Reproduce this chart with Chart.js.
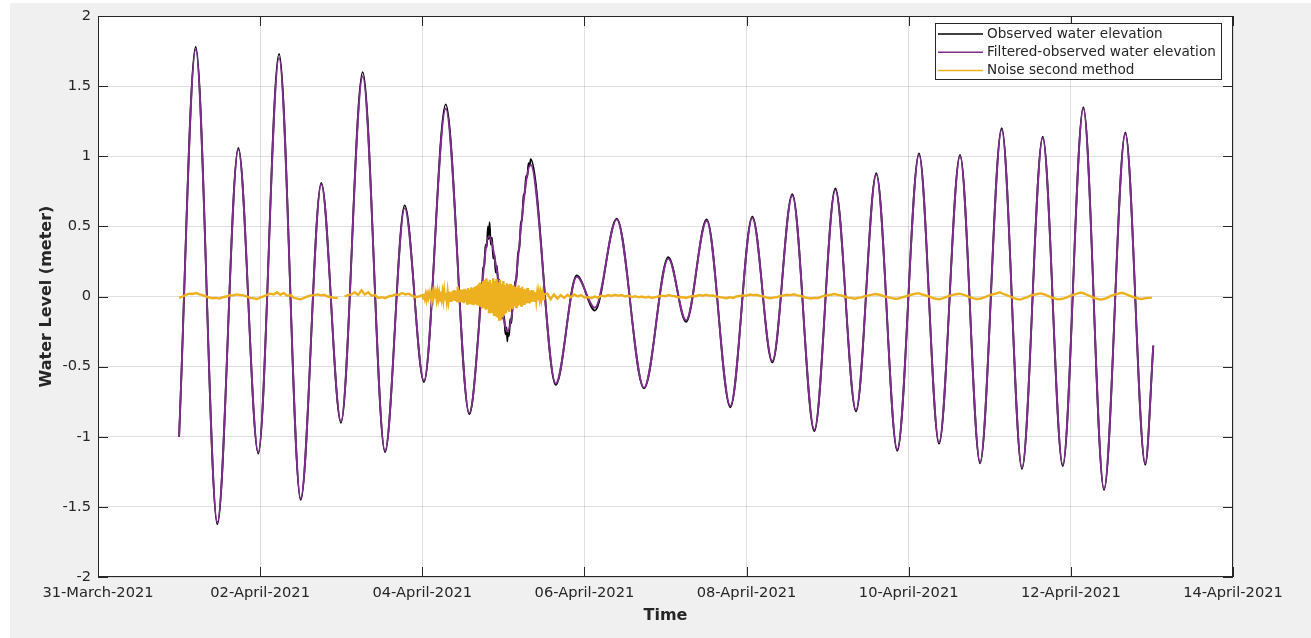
<!DOCTYPE html>
<html>
<head>
<meta charset="utf-8">
<title>Water Level</title>
<script src="https://cdn.jsdelivr.net/npm/chart.js@4.4.1/dist/chart.umd.min.js"></script>
<style>
    html, body { margin: 0; padding: 0; background: #ffffff; }
    #frame { position: absolute; left: 10px; top: 3px; width: 1301px; height: 635px; background: #f0f0f0; }
    canvas { display: block; }
</style>
</head>
<body>
<div id="frame"><canvas id="levelChart" width="1301" height="635"></canvas></div>
<script>
// ===== Data (x = days since 31-March-2021 00:00) =====
const xTickDays = [0, 2, 4, 6, 8, 10, 12, 14];
const xTickLabels = ["31-March-2021", "02-April-2021", "04-April-2021", "06-April-2021",
    "08-April-2021", "10-April-2021", "12-April-2021", "14-April-2021"];
const yTickValues = [-2, -1.5, -1, -0.5, 0, 0.5, 1, 1.5, 2];
const yTickLabels = ["-2", "-1.5", "-1", "-0.5", "0", "0.5", "1", "1.5", "2"];

// filtered signal: high / low waters
const filteredDays = [1.000, 1.205, 1.472, 1.731, 1.977, 2.233, 2.500, 2.754, 2.997, 3.265,
    3.540, 3.783, 4.021, 4.289, 4.580, 4.823, 4.925, 5.049, 5.337, 5.646,
    5.905, 6.130, 6.398, 6.735, 7.035, 7.253, 7.508, 7.800, 8.071, 8.318,
    8.564, 8.836, 9.095, 9.350, 9.600, 9.859, 10.127, 10.374, 10.633, 10.880,
    11.147, 11.397, 11.653, 11.900, 12.154, 12.409, 12.672, 12.918, 13.017];
const filteredLevels = [-1.00, 1.76, -1.61, 1.05, -1.11, 1.70, -1.44, 0.80, -0.89, 1.57,
    -1.10, 0.63, -0.60, 1.34, -0.83, 0.43, 0.17, -0.25, 0.94, -0.62,
    0.14, -0.08, 0.55, -0.65, 0.27, -0.17, 0.54, -0.78, 0.56, -0.46,
    0.72, -0.95, 0.76, -0.81, 0.87, -1.09, 1.01, -1.04, 1.00, -1.18,
    1.19, -1.22, 1.13, -1.20, 1.34, -1.37, 1.16, -1.19, -0.35];

// observed signal: same tide, noisy around 04/05 April
const observedDays = [1.000, 1.205, 1.472, 1.731, 1.977, 2.233, 2.500, 2.754, 2.997, 3.265,
    3.540, 3.783, 4.021, 4.289, 4.580,
    4.62, 4.66, 4.70, 4.72, 4.735, 4.75, 4.765, 4.78, 4.795, 4.81,
    4.82, 4.83, 4.845, 4.86, 4.875, 4.89, 4.905, 4.92, 4.935, 4.95,
    4.965, 4.98, 4.995, 5.01, 5.025, 5.04, 5.049, 5.055, 5.07, 5.085,
    5.10, 5.115, 5.13, 5.145, 5.16, 5.18, 5.20, 5.215, 5.23, 5.25,
    5.265, 5.28, 5.295, 5.31, 5.325, 5.337,
    5.646, 5.905, 6.130, 6.398, 6.735, 7.035, 7.253, 7.508, 7.800, 8.071,
    8.318, 8.564, 8.836, 9.095, 9.350, 9.600, 9.859, 10.127, 10.374, 10.633,
    10.880, 11.147, 11.397, 11.653, 11.900, 12.154, 12.409, 12.672, 12.918, 13.017];
const observedLevels = [-1.00, 1.78, -1.625, 1.06, -1.12, 1.73, -1.45, 0.81, -0.90, 1.60,
    -1.11, 0.65, -0.61, 1.37, -0.84,
    -0.74, -0.50, -0.20, -0.02, 0.02, 0.20, 0.22, 0.37, 0.35, 0.50,
    0.41, 0.53, 0.37, 0.42, 0.27, 0.30, 0.17, 0.22, 0.10, 0.12,
    -0.01, 0.00, -0.16, -0.14, -0.27, -0.22, -0.32, -0.26, -0.28, -0.16,
    -0.19, -0.05, -0.06, 0.10, 0.12, 0.30, 0.36, 0.52, 0.55, 0.72,
    0.74, 0.86, 0.85, 0.95, 0.93, 0.98,
    -0.63, 0.15, -0.10, 0.555, -0.655, 0.28, -0.18, 0.55, -0.79, 0.57,
    -0.47, 0.73, -0.96, 0.77, -0.82, 0.88, -1.10, 1.02, -1.05, 1.01,
    -1.19, 1.20, -1.23, 1.14, -1.21, 1.35, -1.38, 1.17, -1.20, -0.35];

// noise: hourly from 01-April 00:00 ...
const noiseEarlyStart = 1.0;
const noiseEarly = [
    -0.010, 0.000, 0.012, 0.020, 0.018, 0.025, 0.015, 0.010, 0.000, -0.008, -0.012, -0.010, -0.015,
    -0.005, 0.000, 0.010, 0.008, 0.015, 0.012, 0.008, 0.000, -0.010, -0.012, -0.018, -0.008,
    0.000, 0.012, 0.020, 0.015, 0.030, 0.012, 0.025, 0.005, 0.010, -0.010, -0.015, -0.020,
    -0.010, 0.000, 0.008, 0.010, 0.015, 0.008, 0.012, 0.000, -0.005, -0.010, -0.010, null,
    0.000, 0.010, 0.015, 0.030, 0.010, 0.045, 0.015, 0.030, 0.005, 0.010, -0.010, -0.005,
    -0.012, 0.000, 0.005, 0.015, 0.010, 0.025, 0.015, 0.020, 0.005, -0.005, 0.000
];
// ... every 15 minutes through the burst from 04-April 00:00 ...
const noiseBurstStart = 4.0;
const noiseBurst = [
    0.010, -0.015, 0.020, -0.012, 0.018, -0.020, 0.015, -0.010,
    0.022, -0.018, 0.012, -0.025, 0.020, -0.015, 0.028, -0.012,
    0.025, -0.020, 0.030, -0.018, 0.022, -0.028, 0.035, -0.015,
    0.030, -0.022, 0.038, -0.020, 0.025, -0.030, 0.032, -0.025,
    0.035, -0.030, 0.028, -0.035, 0.040, -0.028, 0.045, -0.032,
    0.038, -0.040, 0.070, -0.035, 0.045, -0.042, 0.050, -0.038,
    0.042, -0.048, 0.055, -0.040, 0.048, -0.050, 0.060, -0.045,
    0.050, -0.055, 0.065, -0.050, 0.058, -0.062, 0.070, -0.055,
    0.075, -0.060, 0.085, -0.070, 0.100, -0.075, 0.090, -0.085,
    0.110, -0.080, 0.120, -0.095, 0.130, -0.090, 0.105, -0.110,
    0.120, -0.100, 0.095, -0.120, 0.130, -0.130, 0.110, -0.140,
    0.125, -0.150, 0.100, -0.165, 0.120, -0.170, 0.090, -0.150,
    0.110, -0.130, 0.080, -0.120, 0.095, -0.100, 0.085, -0.110,
    0.090, -0.085, 0.075, -0.090, 0.080, -0.070, 0.070, -0.075,
    0.065, -0.070, 0.080, -0.060, 0.060, -0.065, 0.070, -0.055,
    0.055, -0.060, 0.050, -0.050, 0.060, -0.045, 0.045, -0.050,
    0.040, -0.040, 0.045, -0.035, 0.035, -0.038, 0.030, -0.030,
    0.025, -0.025, 0.028, -0.020, 0.022, -0.022, 0.020, -0.018, 0.015
];
// ... then hourly again from 05-April 13:00
const noiseLateStart = 5.5 + 1 / 24;
const noiseLate = [
    0.020, -0.020, 0.015, -0.015, 0.010, -0.010, 0.012, -0.005, 0.015, 0.000, 0.010, -0.008,
    -0.005, -0.012, 0.000, -0.008, 0.006, 0.000, 0.010, 0.004, 0.012, 0.005, 0.010, 0.000,
    0.006, -0.004, 0.002, -0.006, 0.000, -0.008, -0.002, -0.010, -0.004, 0.000, 0.006, 0.002,
    0.010, 0.004, 0.000, -0.006, -0.004, -0.010, -0.002, 0.004, 0.002, 0.010, 0.006, 0.012,
    0.006, 0.008, 0.000, -0.004, -0.008, -0.012, -0.006, -0.010, 0.000, 0.004, 0.008, 0.006,
    0.014, 0.010, 0.012, 0.004, 0.000, -0.008, -0.012, -0.008, -0.004, 0.004, 0.008, 0.012,
    0.010, 0.016, 0.008, 0.004, -0.004, -0.010, -0.014, -0.010, -0.012, -0.002, 0.004, 0.010,
    0.012, 0.018, 0.012, 0.008, 0.000, -0.008, -0.010, -0.016, -0.010, -0.006, 0.002, 0.008,
    0.012, 0.018, 0.014, 0.008, 0.000, -0.006, -0.012, -0.016, -0.014, -0.006, 0.000, 0.008,
    0.014, 0.020, 0.024, 0.014, 0.008, 0.000, -0.010, -0.016, -0.020, -0.014, -0.004, 0.004,
    0.012, 0.016, 0.020, 0.014, 0.006, -0.004, -0.012, -0.018, -0.016, -0.010, 0.000, 0.010,
    0.016, 0.022, 0.030, 0.018, 0.010, 0.000, -0.010, -0.018, -0.022, -0.014, -0.006, 0.006,
    0.012, 0.018, 0.022, 0.016, 0.006, -0.004, -0.012, -0.020, -0.018, -0.014, -0.004, 0.006,
    0.014, 0.022, 0.028, 0.020, 0.010, 0.000, -0.012, -0.018, -0.022, -0.016, -0.006, 0.006,
    0.014, 0.020, 0.026, 0.020, 0.010, 0.000, -0.008, -0.014, -0.018, -0.012, -0.010, -0.008
];

// ===== Styles =====
const axisColor = "#262626";
const gridColor = "rgba(38,38,38,0.15)";
const tickLen = 10;

Chart.defaults.font.family = "'DejaVu Sans', sans-serif";
Chart.defaults.color = axisColor;

function toPoints(days, levels) {
    return days.map((d, i) => ({ x: d, y: levels[i] }));
}

function sampled(start, stepDays, levels) {
    return levels.map((v, i) => ({ x: start + i * stepDays, y: v }));
}

const noisePoints = [
    ...sampled(noiseEarlyStart, 1 / 24, noiseEarly),
    ...sampled(noiseBurstStart, 1 / 96, noiseBurst),
    ...sampled(noiseLateStart, 1 / 24, noiseLate)
];

// ===== MATLAB-like box, inner ticks and legend =====
const matlabAxes = {
    id: "matlabAxes",
    beforeDraw(chart) {
        const { ctx, chartArea: a } = chart;
        ctx.save();
        ctx.fillStyle = "#ffffff";
        ctx.fillRect(a.left, a.top, a.right - a.left, a.bottom - a.top);
        ctx.restore();
    },
    afterDraw(chart) {
        const { ctx, chartArea: a, scales } = chart;
        ctx.save();
        ctx.strokeStyle = axisColor;
        ctx.lineWidth = 1;
        ctx.beginPath();
        scales.x.ticks.forEach(t => {
            const px = Math.round(scales.x.getPixelForValue(t.value)) + 0.5;
            ctx.moveTo(px, a.bottom); ctx.lineTo(px, a.bottom - tickLen);
            ctx.moveTo(px, a.top); ctx.lineTo(px, a.top + tickLen);
        });
        scales.y.ticks.forEach(t => {
            const py = Math.round(scales.y.getPixelForValue(t.value)) + 0.5;
            ctx.moveTo(a.left, py); ctx.lineTo(a.left + tickLen, py);
            ctx.moveTo(a.right, py); ctx.lineTo(a.right - tickLen, py);
        });
        ctx.stroke();
        ctx.strokeRect(a.left + 0.5, a.top + 0.5, a.right - a.left - 1, a.bottom - a.top - 1);

        // legend
        const sets = chart.data.datasets;
        ctx.font = "13.6px 'DejaVu Sans'";
        const textW = Math.max(...sets.map(s => ctx.measureText(s.label).width));
        const w = Math.round(52 + textW + 5);
        const h = 56;
        const right = a.right - 12;
        const left = right - w;
        const top = a.top + 7;
        ctx.fillStyle = "#ffffff";
        ctx.fillRect(left, top, w, h);
        ctx.strokeStyle = axisColor;
        ctx.strokeRect(left + 0.5, top + 0.5, w, h);
        sets.forEach((s, i) => {
            const y = top + 11 + i * 18.3;
            ctx.strokeStyle = s.borderColor;
            ctx.lineWidth = 1.5;
            ctx.beginPath();
            ctx.moveTo(left + 3, y); ctx.lineTo(left + 48, y);
            ctx.stroke();
            ctx.fillStyle = axisColor;
            ctx.textBaseline = "middle";
            ctx.textAlign = "left";
            ctx.fillText(s.label, left + 52, y);
        });
        ctx.restore();
    }
};

// ===== Chart =====
const ctx = document.getElementById("levelChart").getContext("2d");
const levelChart = new Chart(ctx, {
    type: "line",
    data: {
        datasets: [
            {
                label: "Observed water elevation",
                data: toPoints(observedDays, observedLevels),
                borderColor: "#000000",
                borderWidth: 1.8,
                cubicInterpolationMode: "monotone",
                order: 3
            },
            {
                label: "Filtered-observed water elevation",
                data: toPoints(filteredDays, filteredLevels),
                borderColor: "#7E2F8E",
                borderWidth: 1.9,
                cubicInterpolationMode: "monotone",
                order: 2
            },
            {
                label: "Noise second method",
                data: noisePoints,
                borderColor: "#EDB120",
                borderWidth: 2.4,
                tension: 0,
                spanGaps: false,
                order: 1
            }
        ]
    },
    options: {
        responsive: false,
        animation: false,
        elements: { point: { radius: 0 } },
        layout: { padding: { left: 0, top: 13, right: 78, bottom: 0 } },
        plugins: {
            legend: { display: false },
            tooltip: { enabled: false }
        },
        scales: {
            x: {
                type: "linear",
                min: 0,
                max: 14,
                afterFit: s => { s.height = 61; },
                afterBuildTicks: s => { s.ticks = xTickDays.map(v => ({ value: v })); },
                ticks: {
                    callback: (v, i) => xTickLabels[i],
                    padding: 7,
                    maxRotation: 0,
                    autoSkip: false,
                    color: axisColor,
                    font: { size: 14.67 }
                },
                grid: { color: gridColor, drawTicks: false },
                border: { display: false },
                title: {
                    display: true,
                    text: "Time",
                    color: axisColor,
                    font: { size: 16, weight: "bold" },
                    padding: { top: 0, bottom: 13 }
                }
            },
            y: {
                min: -2,
                max: 2,
                afterFit: s => { s.width = 88; s.paddingTop = 0; s.paddingBottom = 0; },
                afterBuildTicks: s => { s.ticks = yTickValues.map(v => ({ value: v })); },
                ticks: {
                    callback: (v, i) => yTickLabels[i],
                    padding: 7,
                    color: axisColor,
                    font: { size: 14.67 }
                },
                grid: { color: gridColor, drawTicks: false },
                border: { display: false },
                title: {
                    display: true,
                    text: "Water Level (meter)",
                    color: axisColor,
                    font: { size: 16, weight: "bold" },
                    padding: { top: 27, bottom: 0 }
                }
            }
        }
    },
    plugins: [matlabAxes]
});
</script>
</body>
</html>
